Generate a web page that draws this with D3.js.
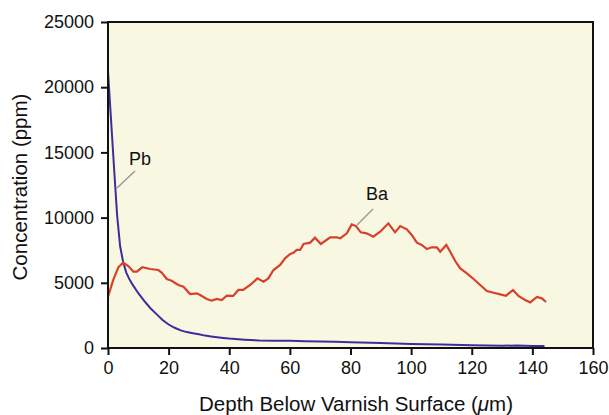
<!DOCTYPE html>
<html><head><meta charset="utf-8">
<script src="https://cdn.jsdelivr.net/npm/d3@7"></script>
<style>body{margin:0;background:#fff;} text{font-family:"Liberation Sans",Arial,Helvetica,sans-serif;}</style>
</head><body>
<svg id="c" width="609" height="415"></svg>
<script>
const xTicks = [0,20,40,60,80,100,120,140,160];
const yTicks = [0,5000,10000,15000,20000,25000];

const pbDepth = [0,1,2,3,4,5,6,7,8,10,12,14,16,18,20,22,24,26,28,30,32,34,36,38,40,45,50,55,60,65,70,75,80,90,100,110,120,130,135,140,144];
const pbConc  = [21200,17500,13800,10200,7800,6600,5800,5300,4900,4200,3600,3050,2600,2150,1800,1550,1350,1220,1130,1050,950,880,820,770,720,640,580,560,560,520,500,480,440,380,310,260,220,170,200,160,150];

const baDepth = [0,1.7,3.4,5,6.7,8.4,9.5,11.3,13.9,16.6,17.7,19.4,21,23.2,24.9,27.1,29.3,30.4,32.6,34.2,35.9,37.5,39.2,41.3,43,44.6,46.9,49.3,51.3,52.9,54.6,56.8,58.4,60.1,61.2,62.3,63.4,64.5,66.7,68.3,70.2,73.3,75.5,76.6,78.8,80.4,81.8,83.4,85.3,87.5,89.8,90.9,92.5,94.7,96.4,98.6,100.2,101.9,103.5,105.2,106.8,108.5,109.6,111.6,112.9,114.5,116.2,118.4,120.6,122.8,125,127.2,129.4,131.3,133.6,135.4,137.6,139.3,141.5,143.1,144.5];
const baConc  = [3930,5210,6190,6540,6290,5850,5850,6190,6060,5980,5780,5290,5160,4830,4700,4140,4190,4060,3760,3630,3760,3680,4010,3990,4450,4450,4830,5340,5090,5340,5980,6370,6880,7210,7310,7520,7520,7980,8080,8460,7980,8490,8490,8410,8790,9480,9350,8870,8790,8540,8920,9180,9560,8870,9350,9100,8670,8080,7900,7590,7720,7720,7380,7900,7380,6690,6100,5720,5290,4830,4370,4240,4110,4010,4450,3990,3680,3500,3910,3810,3530];

const svg = d3.select("#c");
const L=108, R=593, T=22, B=348;
const x = d3.scaleLinear().domain([0,160]).range([L,R]);
const y = d3.scaleLinear().domain([0,25000]).range([B,T]);

svg.append("rect").attr("x",L).attr("y",T).attr("width",R-L).attr("height",B-T).attr("fill","#f8f7e1");

const line = d3.line().x(d=>x(d[0])).y(d=>y(d[1]));
svg.append("path").datum(pbDepth.map((d,i)=>[d,pbConc[i]])).attr("d",line)
  .attr("fill","none").attr("stroke","#3e2c9c").attr("stroke-width",2);
svg.append("path").datum(baDepth.map((d,i)=>[d,baConc[i]])).attr("d",line)
  .attr("fill","none").attr("stroke","#d9402c").attr("stroke-width",2.2);

// frame
svg.append("rect").attr("x",L).attr("y",T).attr("width",R-L).attr("height",B-T).attr("fill","none").attr("stroke","#111").attr("stroke-width",2);

const xa = svg.append("g").attr("transform",`translate(0,${B})`).call(d3.axisBottom(x).tickValues(xTicks).tickSize(7).tickPadding(6).tickFormat(d3.format("d")));
const ya = svg.append("g").attr("transform",`translate(${L},0)`).call(d3.axisLeft(y).tickValues(yTicks).tickSize(7).tickPadding(7).tickFormat(d3.format("d")));
[xa,ya].forEach(a=>{
  a.select(".domain").remove();
  a.selectAll("line").attr("stroke","#111").attr("stroke-width",2);
  a.selectAll("text").attr("font-size","18px").attr("fill","#111").attr("font-family","Liberation Sans, Arial, sans-serif");
});

// axis titles
svg.append("text").attr("x",356).attr("y",411).attr("text-anchor","middle").attr("font-size","20.5px").attr("fill","#111")
  .html('Depth Below Varnish Surface (<tspan font-style="italic">μ</tspan>m)');
svg.append("text").attr("transform",`translate(27,${(T+B)/2+2}) rotate(-90)`).attr("text-anchor","middle").attr("font-size","20.5px").attr("fill","#111")
  .text("Concentration (ppm)");

// labels
svg.append("line").attr("x1",135).attr("y1",171).attr("x2",117).attr("y2",188).attr("stroke","#999").attr("stroke-width",1.5);
svg.append("text").attr("x",129).attr("y",165).attr("font-size","18px").attr("fill","#111").text("Pb");
svg.append("line").attr("x1",373).attr("y1",209).attr("x2",357).attr("y2",225).attr("stroke","#999").attr("stroke-width",1.5);
svg.append("text").attr("x",366).attr("y",200).attr("font-size","18px").attr("fill","#111").text("Ba");
</script>
</body></html>
